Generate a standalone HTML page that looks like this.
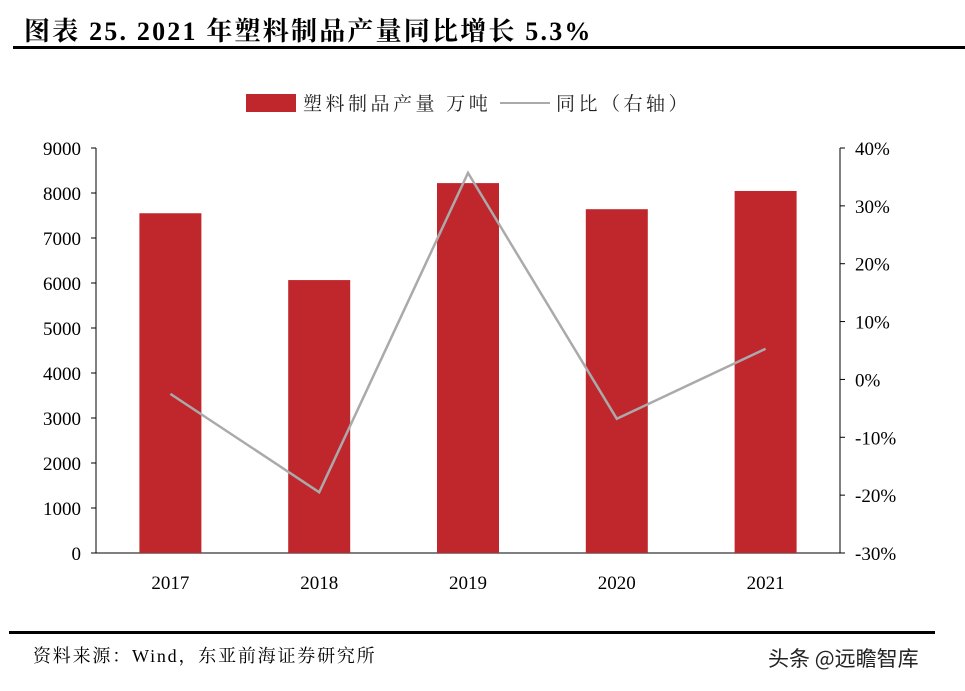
<!DOCTYPE html>
<html><head><meta charset="utf-8"><style>
body{margin:0;background:#fff;width:965px;height:691px;overflow:hidden}
svg{display:block}
text{font-family:"Liberation Serif","Noto Serif CJK SC",serif}
</style></head><body>
<svg id="c" width="965" height="691" xmlns="http://www.w3.org/2000/svg">
<text x="24" y="40" font-size="26" font-weight="bold" fill="#000" letter-spacing="2.2">图表 25. 2021 年塑料制品产量同比增长 5.3%</text>
<rect x="13" y="46" width="952" height="3" fill="#000"/>
<g>
<rect x="246" y="94" width="50" height="18" fill="#c0272d"/>
<text x="303" y="110" font-size="19" fill="#222" letter-spacing="3.5">塑料制品产量 万吨</text>
<line x1="500" y1="103" x2="550" y2="103" stroke="#aaa" stroke-width="2"/>
<text x="556" y="110" font-size="19" fill="#222" letter-spacing="3.5">同比（右轴）</text>
</g>
<g id="plot"></g>
<rect x="9" y="631" width="926" height="3" fill="#000"/>
<text x="33" y="662" font-size="18" fill="#000" letter-spacing="1.8">资料来源：Wind，东亚前海证券研究所</text>
<text x="768" y="666" font-size="21" fill="#222" style="font-family:'Noto Sans CJK SC',sans-serif">头条 @远瞻智库</text>
</svg>
<script>
const categories=["2017","2018","2019","2020","2021"];
const production=[7550,6065,8220,7640,8045];
const yoy=[-2.5,-19.5,35.7,-6.8,5.3];
const leftTicks=[0,1000,2000,3000,4000,5000,6000,7000,8000,9000];
const rightTicks=[-30,-20,-10,0,10,20,30,40];
const NS="http://www.w3.org/2000/svg";
const g=document.getElementById('plot');
const X0=96,X1=840,Y0=553,Y1=148;
const yL=v=>Y0-(v/9000)*(Y0-Y1);
const yR=v=>Y0-((v+30)/70)*(Y0-Y1);
const band=(X1-X0)/categories.length;
const xC=i=>X0+band*(i+0.5);
function mk(t,a){const e=document.createElementNS(NS,t);for(const k in a)e.setAttribute(k,a[k]);g.appendChild(e);return e;}
let e;
e=mk('line',{x1:X0,y1:Y1,x2:X0,y2:Y0,stroke:'#000','stroke-width':1});


e=mk('line',{x1:X1,y1:Y1,x2:X1,y2:Y0,stroke:'#000','stroke-width':1});


e=mk('line',{x1:X0,y1:Y0,x2:X1,y2:Y0,stroke:'#000','stroke-width':1});


leftTicks.forEach(v=>{
 const y=yL(v);
 e=mk('line',{x1:X0-5,y1:y,x2:X0,y2:y,stroke:'#000'});
 
 
 e=mk('text',{x:X0-15,y:y+7,'text-anchor':'end','font-size':19,fill:'#000'});e.textContent=v;
 
 
});
rightTicks.forEach(v=>{
 const y=yR(v);
 e=mk('line',{x1:X1,y1:y,x2:X1+5,y2:y,stroke:'#000'});
 
 
 e=mk('text',{x:X1+15,y:y+7,'font-size':19,fill:'#000'});e.textContent=v+'%';
 
 
});
categories.forEach((c,i)=>{
 const x=xC(i);
 e=mk('rect',{x:x-31,y:yL(production[i]),width:62,height:Y0-yL(production[i]),fill:'#c0272d'});
 
 
 e=mk('text',{x:x,y:Y0+36,'text-anchor':'middle','font-size':19,fill:'#000'});e.textContent=c;
 
 
});
e=mk('polyline',{points:yoy.map((v,i)=>xC(i)+','+yR(v)).join(' '),fill:'none',stroke:'#aaa','stroke-width':2.5});


</script>
</body></html>
